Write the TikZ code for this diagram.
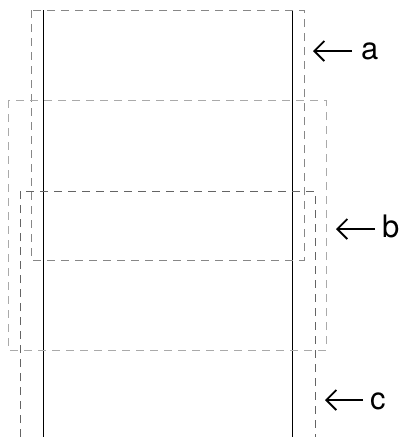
\documentclass[tikz,border=0pt]{standalone}
\usepackage{fontspec}
\setmainfont{TeX Gyre Heros}
\usetikzlibrary{arrows.meta}
\definecolor{boxGrayA}{RGB}{135, 135, 135}
\definecolor{boxGrayB}{RGB}{170, 170, 170}
\definecolor{boxGrayC}{RGB}{100, 100, 100}
\tikzset{
  frame/.style={line width=1pt, dash pattern=on 8pt off 6pt},
  pointer/.style={-{Straight Barb[length=10pt,width=20pt,line width=1.8pt]}, line width=1.8pt},
  tag/.style={font=\fontsize{31}{31}\selectfont, inner sep=0pt, anchor=base west}
}
\begin{document}
\begin{tikzpicture}[x=1pt, y=-1pt]
  \useasboundingbox (0,0) rectangle (401,437);
  % the two walls
  \draw[line width=1pt] (43,10) -- (43,437);
  \draw[line width=1pt] (292,10) -- (292,437);
  % window a
  \draw[frame, boxGrayA] (31,10) rectangle (304,260);
  % window b
  \draw[frame, boxGrayB] (8,100) rectangle (326,350);
  % window c, open at the bottom
  \draw[frame, boxGrayC] (20,437) -- (20,191) -- (315,191) -- (315,437);
  % labels
  \node[tag] (labelA) at (361,59) {a};
  \node[tag] (labelB) at (382,237) {b};
  \node[tag] (labelC) at (370,409) {c};
  \coordinate (tipA) at (313,51);
  \coordinate (tipB) at (336,229);
  \coordinate (tipC) at (325,400);
  \draw[pointer] ([xshift=-9pt]labelA.west |- tipA) -- (tipA);
  \draw[pointer] ([xshift=-7pt]labelB.west |- tipB) -- (tipB);
  \draw[pointer] ([xshift=-7pt]labelC.west |- tipC) -- (tipC);
\end{tikzpicture}
\end{document}
